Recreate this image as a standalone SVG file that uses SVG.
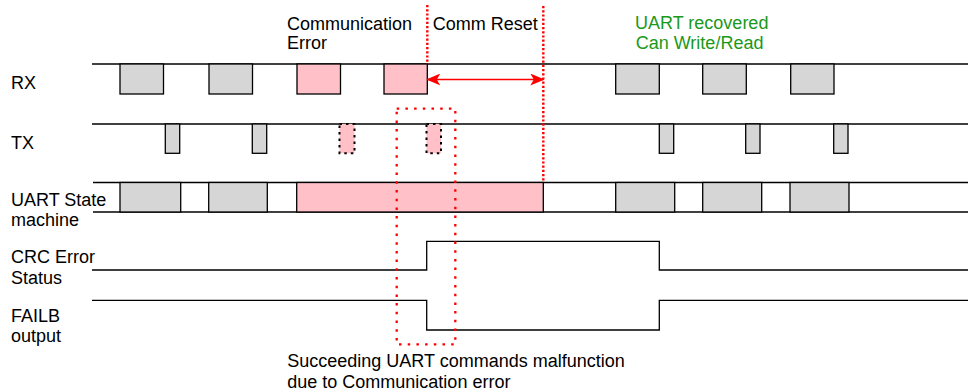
<svg xmlns="http://www.w3.org/2000/svg" width="968" height="392" viewBox="0 0 968 392">
<style>
text{font-family:"Liberation Sans",Arial,sans-serif;font-size:18px;fill:#000}
.green{fill:#1a991a}
.base{stroke:#000;stroke-width:1.3;fill:none}
.gray{fill:#d6d6d6;stroke:#000;stroke-width:1.3}
.pink{fill:#ffc0c8;stroke:#000;stroke-width:1.3}
.pinkdot{fill:#ffc0c8;stroke:#000;stroke-width:2;stroke-dasharray:2.5 4}
.reddot{stroke:#ff0000;stroke-width:2.4;stroke-dasharray:2.2 2;fill:none}
.redbox{stroke:#ff0000;stroke-width:2.3;stroke-dasharray:2.5 6.2;fill:none}
</style>
<defs>
<marker id="ah" viewBox="0 0 14 12" refX="13" refY="6" markerWidth="14" markerHeight="12" markerUnits="userSpaceOnUse" orient="auto-start-reverse">
<path d="M0,0 L14,6 L0,12 L3.5,6 Z" fill="#ff0000"/>
</marker>
</defs>
<rect width="968" height="392" fill="#fff"/>

<g id="rx">
<text x="11" y="89">RX</text>
<line class="base" x1="92" y1="64" x2="968" y2="64"/>
<rect class="gray" x="120" y="64" width="43.5" height="30"/>
<rect class="gray" x="209" y="64" width="43.5" height="30"/>
<rect class="pink" x="297" y="64" width="43.5" height="30"/>
<rect class="pink" x="384" y="64" width="43.3" height="30"/>
<rect class="gray" x="615.7" y="64" width="43.6" height="30"/>
<rect class="gray" x="702.7" y="64" width="43.6" height="30"/>
<rect class="gray" x="790.7" y="64" width="43.3" height="30"/>
</g>

<g id="tx">
<text x="11" y="149">TX</text>
<line class="base" x1="92" y1="124" x2="968" y2="124"/>
<rect class="gray" x="165.3" y="124" width="14.4" height="29.3"/>
<rect class="gray" x="252.3" y="124" width="14.4" height="29.3"/>
<rect class="pinkdot" x="339.5" y="124" width="15" height="29.3"/>
<rect class="pinkdot" x="426.5" y="124" width="14.5" height="29.3"/>
<rect class="gray" x="659.3" y="124" width="14.4" height="29.3"/>
<rect class="gray" x="745.7" y="124" width="14.3" height="29.3"/>
<rect class="gray" x="833.7" y="124" width="14.3" height="29.3"/>
</g>

<g id="uart-state">
<text x="11" y="205.7">UART State</text>
<text x="11" y="225.7">machine</text>
<line class="base" x1="93" y1="182.5" x2="968" y2="182.5"/>
<line class="base" x1="93" y1="212" x2="968" y2="212"/>
<rect class="gray" x="120" y="182.5" width="60.7" height="29.5"/>
<rect class="gray" x="208.7" y="182.5" width="58.6" height="29.5"/>
<rect class="pink" x="296.7" y="182.5" width="246.6" height="29.5"/>
<rect class="gray" x="615.7" y="182.5" width="59" height="29.5"/>
<rect class="gray" x="702.7" y="182.5" width="59" height="29.5"/>
<rect class="gray" x="790" y="182.5" width="59" height="29.5"/>
</g>

<g id="crc">
<text x="11" y="263.3">CRC Error</text>
<text x="11" y="284.3">Status</text>
<polyline class="base" points="92,270 426.7,270 426.7,241.3 659.3,241.3 659.3,270 968,270"/>
</g>

<g id="failb">
<text x="11" y="321.7">FAILB</text>
<text x="11" y="342.3">output</text>
<polyline class="base" points="92,300.3 426.7,300.3 426.7,330 659.3,330 659.3,300.3 968,300.3"/>
</g>

<g id="annotations">
<text x="287" y="30">Communication</text>
<text x="287" y="49.3">Error</text>
<text x="432.7" y="30">Comm Reset</text>
<text class="green" x="635" y="29.3">UART recovered</text>
<text class="green" x="635.7" y="49.3">Can Write/Read</text>
<text x="287.3" y="366.5">Succeeding UART commands malfunction</text>
<text x="287.3" y="387.5">due to Communication error</text>
</g>

<g id="connectors">
<line class="reddot" x1="427.3" y1="5" x2="427.3" y2="64"/>
<line class="reddot" x1="543.3" y1="6" x2="543.3" y2="182.5"/>
<line x1="427.3" y1="79.5" x2="543.3" y2="79.5" stroke="#ff0000" stroke-width="1.3" marker-start="url(#ah)" marker-end="url(#ah)"/>
<rect class="redbox" x="396.7" y="108.7" width="58.6" height="235.6"/>
</g>
</svg>
